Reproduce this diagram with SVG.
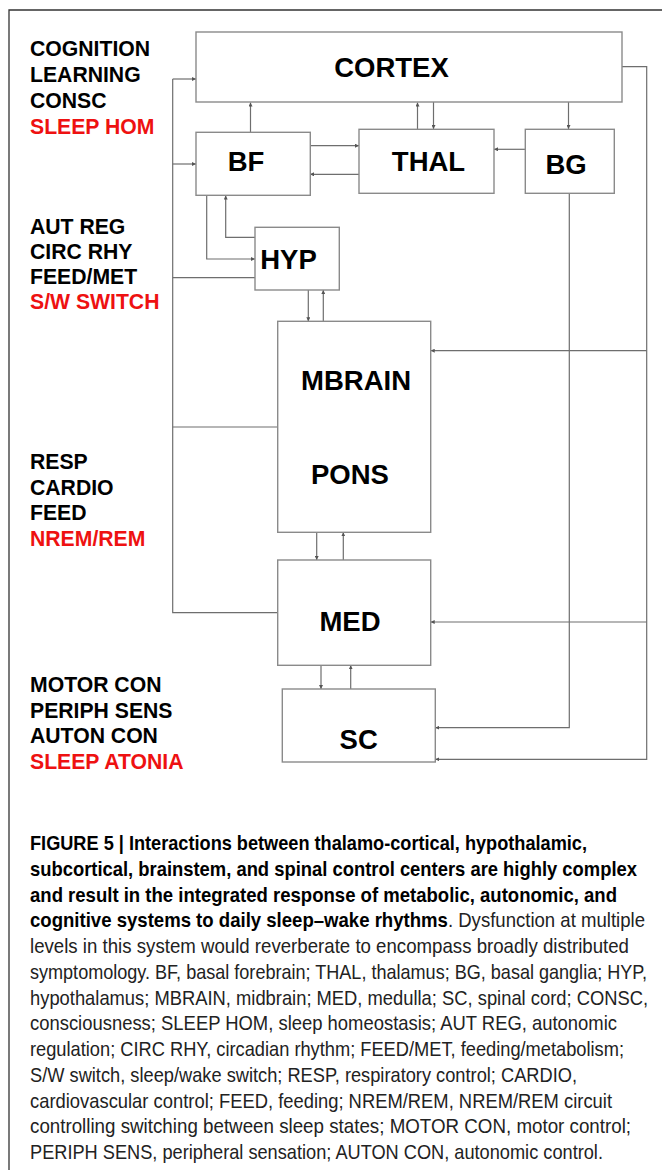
<svg xmlns="http://www.w3.org/2000/svg" width="662" height="1170" viewBox="0 0 662 1170">
<style>
.box{fill:#fff;stroke:#8a8a8a;stroke-width:1.4}
.bt{font-family:"Liberation Sans",Arial,sans-serif;font-weight:bold;font-size:27.5px;fill:#000;text-anchor:middle}
.lb{font-family:"Liberation Sans",Arial,sans-serif;font-weight:bold;font-size:21.2px;fill:#000}
.red{fill:#ee1111}
.c{fill:none;stroke:#6e6e6e;stroke-width:1.2}
.a{marker-end:url(#ah)}
.cap{font-family:"Liberation Sans",Arial,sans-serif;font-size:20px;fill:#222}
.capb{font-weight:bold;fill:#000}
</style>
<defs>
<marker id="ah" viewBox="0 0 6 6" refX="6" refY="3" markerWidth="4" markerHeight="4" markerUnits="userSpaceOnUse" orient="auto">
<path d="M0,0 L6,3 L0,6 Z" fill="#555"/>
</marker>
</defs>
<rect width="662" height="1170" fill="#fff"/>
<path d="M9,1170 V10 H662" fill="none" stroke="#333" stroke-width="1.3"/>

<g id="connectors">
<line class="c a" x1="250.5" y1="132" x2="250.5" y2="102.5"/>
<line class="c a" x1="417.5" y1="129" x2="417.5" y2="102.5"/>
<line class="c a" x1="433.5" y1="102" x2="433.5" y2="129"/>
<line class="c a" x1="568.5" y1="102" x2="568.5" y2="129"/>
<line class="c a" x1="310" y1="145.7" x2="359" y2="145.7"/>
<line class="c a" x1="359" y1="174.3" x2="310" y2="174.3"/>
<line class="c a" x1="525" y1="149.3" x2="494" y2="149.3"/>
<path class="c" d="M277.7,612.7 H172.7 V79"/>
<line class="c a" x1="172.7" y1="79" x2="196" y2="79"/>
<line class="c a" x1="172.7" y1="164" x2="196" y2="164"/>
<line class="c" x1="172.7" y1="277.7" x2="255" y2="277.7"/>
<line class="c" x1="172.7" y1="427" x2="277.7" y2="427"/>
<path class="c a" d="M206.7,195.5 V259 H255"/>
<path class="c a" d="M255,237.3 H225.7 V195.5"/>
<line class="c a" x1="308.3" y1="290" x2="308.3" y2="321.3"/>
<line class="c a" x1="323.3" y1="321.3" x2="323.3" y2="290"/>
<line class="c a" x1="316.7" y1="532.3" x2="316.7" y2="560"/>
<line class="c a" x1="343.3" y1="560" x2="343.3" y2="532.3"/>
<line class="c a" x1="321" y1="665.3" x2="321" y2="689"/>
<line class="c a" x1="350.7" y1="689" x2="350.7" y2="665.3"/>
<path class="c a" d="M621.7,66.7 H646.7 V759.3 H435.3"/>
<line class="c a" x1="646.7" y1="350.7" x2="430.7" y2="350.7"/>
<line class="c a" x1="646.7" y1="622" x2="430.7" y2="622"/>
<path class="c a" d="M569.3,193.3 V727.7 H435.3"/>
</g>

<g id="cortex"><rect class="box" x="196" y="32" width="426" height="70"/><text class="bt" x="391.5" y="77">CORTEX</text></g>
<g id="bf"><rect class="box" x="196" y="132.3" width="114.3" height="63"/><text class="bt" x="246" y="171">BF</text></g>
<g id="thal"><rect class="box" x="359" y="129.3" width="135" height="64"/><text class="bt" x="428.5" y="171">THAL</text></g>
<g id="bg"><rect class="box" x="525.3" y="129.3" width="89" height="64"/><text class="bt" x="566" y="174">BG</text></g>
<g id="hyp"><rect class="box" x="255" y="227.3" width="84.3" height="62.7"/><text class="bt" x="288.5" y="268.5">HYP</text></g>
<g id="mbrain"><rect class="box" x="277.7" y="321.3" width="153" height="211"/><text class="bt" x="356" y="390">MBRAIN</text><text class="bt" x="350" y="483.5">PONS</text></g>
<g id="med"><rect class="box" x="277.7" y="560" width="153" height="105.3"/><text class="bt" x="350" y="631">MED</text></g>
<g id="sc"><rect class="box" x="282.3" y="689" width="153" height="73"/><text class="bt" x="358.7" y="748.7">SC</text></g>

<g id="labels-cortex">
<text class="lb" x="30" y="56">COGNITION</text>
<text class="lb" x="30" y="82">LEARNING</text>
<text class="lb" x="30" y="108">CONSC</text>
<text class="lb red" x="30" y="134">SLEEP HOM</text>
</g>
<g id="labels-hyp">
<text class="lb" x="30" y="234">AUT REG</text>
<text class="lb" x="30" y="259">CIRC RHY</text>
<text class="lb" x="30" y="284">FEED/MET</text>
<text class="lb red" x="30" y="309">S/W SWITCH</text>
</g>
<g id="labels-pons">
<text class="lb" x="30" y="469">RESP</text>
<text class="lb" x="30" y="495">CARDIO</text>
<text class="lb" x="30" y="520">FEED</text>
<text class="lb red" x="30" y="546">NREM/REM</text>
</g>
<g id="labels-sc">
<text class="lb" x="30" y="692">MOTOR CON</text>
<text class="lb" x="30" y="718">PERIPH SENS</text>
<text class="lb" x="30" y="743">AUTON CON</text>
<text class="lb red" x="30" y="769">SLEEP ATONIA</text>
</g>

<g id="caption" transform="translate(30,0) scale(0.85,1)">
<text class="cap capb" x="0" y="850" textLength="655.3" lengthAdjust="spacingAndGlyphs">FIGURE 5 | Interactions between thalamo-cortical, hypothalamic,</text>
<text class="cap capb" x="0" y="876" textLength="714.1" lengthAdjust="spacingAndGlyphs">subcortical, brainstem, and spinal control centers are highly complex</text>
<text class="cap capb" x="0" y="902" textLength="690.6" lengthAdjust="spacingAndGlyphs">and result in the integrated response of metabolic, autonomic, and</text>
<text class="cap" x="0" y="927" textLength="723.5" lengthAdjust="spacingAndGlyphs"><tspan class="capb">cognitive systems to daily sleep–wake rhythms</tspan>. Dysfunction at multiple</text>
<text class="cap" x="0" y="953" textLength="704.7" lengthAdjust="spacingAndGlyphs">levels in this system would reverberate to encompass broadly distributed</text>
<text class="cap" x="0" y="979" textLength="725.9" lengthAdjust="spacingAndGlyphs">symptomology. BF, basal forebrain; THAL, thalamus; BG, basal ganglia; HYP,</text>
<text class="cap" x="0" y="1005" textLength="727.1" lengthAdjust="spacingAndGlyphs">hypothalamus; MBRAIN, midbrain; MED, medulla; SC, spinal cord; CONSC,</text>
<text class="cap" x="0" y="1030" textLength="690.6" lengthAdjust="spacingAndGlyphs">consciousness; SLEEP HOM, sleep homeostasis; AUT REG, autonomic</text>
<text class="cap" x="0" y="1056" textLength="698.8" lengthAdjust="spacingAndGlyphs">regulation; CIRC RHY, circadian rhythm; FEED/MET, feeding/metabolism;</text>
<text class="cap" x="0" y="1082" textLength="643.5" lengthAdjust="spacingAndGlyphs">S/W switch, sleep/wake switch; RESP, respiratory control; CARDIO,</text>
<text class="cap" x="0" y="1108" textLength="684.7" lengthAdjust="spacingAndGlyphs">cardiovascular control; FEED, feeding; NREM/REM, NREM/REM circuit</text>
<text class="cap" x="0" y="1133" textLength="707.1" lengthAdjust="spacingAndGlyphs">controlling switching between sleep states; MOTOR CON, motor control;</text>
<text class="cap" x="0" y="1159" textLength="674.1" lengthAdjust="spacingAndGlyphs">PERIPH SENS, peripheral sensation; AUTON CON, autonomic control.</text>
</g>
</svg>
